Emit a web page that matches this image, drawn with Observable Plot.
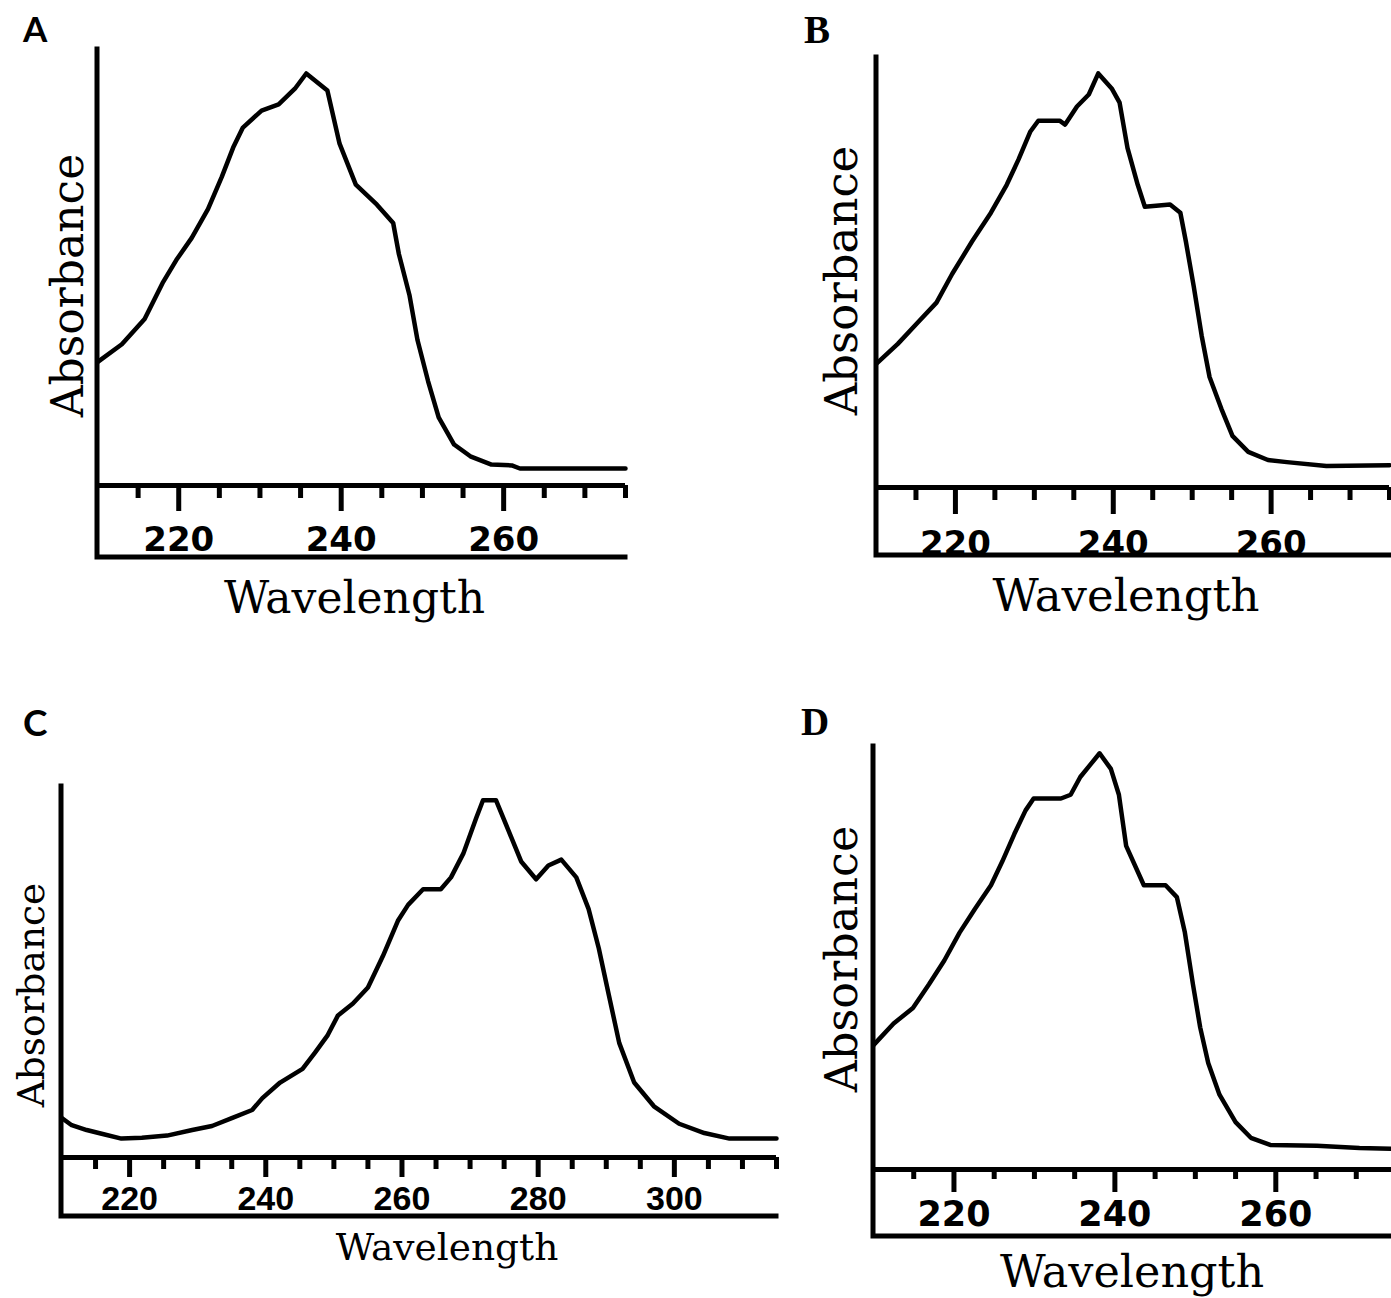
<!DOCTYPE html>
<html>
<head>
<meta charset="utf-8">
<script src="https://cdn.jsdelivr.net/npm/d3@7"></script>
<script src="https://cdn.jsdelivr.net/npm/@observablehq/plot@0.6"></script>
<style>
  html, body { margin: 0; padding: 0; background: #fff; overflow: hidden; }
  #page { position: relative; width: 1391px; height: 1298px; overflow: hidden; background: #fff; }
  .panel { position: absolute; }
  .panel svg { background: transparent !important; max-width: none !important; overflow: visible; }
  .letter { position: absolute; font-weight: bold; color: #000; }
</style>
</head>
<body>
<div id="page"></div>
<script>
// ---------- Data ----------
const panelLabels = ["A", "B", "C", "D"];
const xLabel = "Wavelength";
const yLabel = "Absorbance";

const majorTicksABD = [220, 240, 260];
const minorTicksABD = [215, 225, 230, 235, 245, 250, 255, 265, 270, 275];
const majorTicksC = [220, 240, 260, 280, 300];
const minorTicksC = [215, 225, 230, 235, 245, 250, 255, 265, 270, 275, 285, 290, 295, 305, 310, 315];

const wlA = [210, 213.0, 215.8, 218.0, 219.7, 221.6, 223.6, 225.3, 226.7, 227.9, 230.2, 232.3, 234.3, 235.7, 238.3, 239.8, 241.8, 244.4, 246.4, 247.1, 248.4, 249.4, 250.7, 252.0, 253.9, 255.9, 258.5, 261.0, 262.0, 275];
const absA = [0.283, 0.324, 0.382, 0.464, 0.517, 0.568, 0.634, 0.708, 0.775, 0.821, 0.860, 0.874, 0.910, 0.945, 0.906, 0.784, 0.690, 0.644, 0.602, 0.531, 0.437, 0.333, 0.239, 0.156, 0.094, 0.067, 0.048, 0.046, 0.039, 0.039];

const wlB = [210, 212.7, 215.2, 217.6, 219.6, 222.1, 224.5, 226.5, 228.0, 229.5, 230.5, 233.2, 233.9, 235.4, 236.9, 238.1, 239.8, 240.8, 241.8, 243.1, 244.0, 247.2, 248.5, 249.2, 250.2, 251.2, 252.2, 253.7, 255.1, 257.1, 259.6, 262.0, 267.0, 275];
const absB = [0.288, 0.334, 0.383, 0.430, 0.497, 0.572, 0.639, 0.704, 0.763, 0.828, 0.853, 0.853, 0.844, 0.886, 0.914, 0.963, 0.928, 0.895, 0.790, 0.704, 0.653, 0.658, 0.639, 0.572, 0.467, 0.353, 0.257, 0.183, 0.120, 0.083, 0.064, 0.059, 0.050, 0.052];

const wlC = [210, 211.5, 213.7, 215.9, 218.8, 221.8, 225.5, 229.2, 232.1, 235.1, 238.0, 239.5, 242.1, 245.4, 247.2, 249.1, 250.6, 252.8, 255.0, 257.2, 259.4, 260.9, 263.1, 265.7, 267.2, 269.0, 270.9, 271.9, 273.8, 275.6, 277.5, 279.7, 281.5, 283.4, 285.6, 287.4, 288.9, 290.4, 291.9, 294.1, 297.0, 300.7, 304.4, 308.1, 315];
const absC = [0.107, 0.087, 0.074, 0.064, 0.051, 0.053, 0.059, 0.074, 0.085, 0.107, 0.128, 0.160, 0.202, 0.239, 0.282, 0.330, 0.383, 0.415, 0.458, 0.543, 0.638, 0.681, 0.723, 0.723, 0.755, 0.819, 0.915, 0.963, 0.963, 0.883, 0.798, 0.750, 0.787, 0.803, 0.755, 0.670, 0.564, 0.436, 0.309, 0.202, 0.138, 0.091, 0.066, 0.051, 0.051];

const wlD = [210, 212.5, 214.9, 216.9, 218.8, 220.7, 222.6, 224.6, 226.0, 227.5, 228.9, 229.9, 233.3, 234.5, 235.7, 236.9, 238.1, 239.5, 240.5, 241.4, 243.6, 246.3, 247.7, 248.7, 249.7, 250.6, 251.6, 253.0, 255.0, 256.9, 259.3, 265.1, 270.4, 275];
const absD = [0.294, 0.345, 0.382, 0.438, 0.494, 0.560, 0.616, 0.672, 0.728, 0.793, 0.849, 0.877, 0.877, 0.886, 0.928, 0.956, 0.984, 0.947, 0.886, 0.765, 0.672, 0.672, 0.644, 0.560, 0.438, 0.336, 0.252, 0.177, 0.112, 0.075, 0.058, 0.056, 0.051, 0.049];

// ---------- Layout (styles / positions only) ----------
const layouts = [
  {wl: wlA, ab: absA, domain: [210, 275], major: majorTicksABD, minor: minorTicksABD,
   left: 0, top: 0, width: 640, height: 640, mL: 97, mT: 49, mR: 15, mB: 155, strip: 72,
   majorLen: 26, minorLen: 13, tickPad: 15, tickFont: 34, tickFamily: "DejaVu Sans",
   wlFont: 44, abFont: 44, wlDx: -7, wlDy: 113, abDx: -29, abDy: 18,
   letterFont: "Lato, 'Open Sans', sans-serif", letterSize: 35, letterX: 23, letterY: 11},
  {wl: wlB, ab: absB, domain: [210, 275], major: majorTicksABD, minor: minorTicksABD,
   left: 780, top: 0, width: 611, height: 640, mL: 96, mT: 57, mR: 2, mB: 153, strip: 68,
   majorLen: 27, minorLen: 13, tickPad: 16, tickFont: 34, tickFamily: "DejaVu Sans",
   wlFont: 45, abFont: 45, wlDx: -7, wlDy: 109, abDx: -34, abDy: 8,
   letterFont: "'Liberation Serif', serif", letterSize: 39, letterX: 24, letterY: 10},
  {wl: wlC, ab: absC, domain: [210, 315], major: majorTicksC, minor: minorTicksC,
   left: 0, top: 680, width: 790, height: 618, mL: 61, mT: 106, mR: 14, mB: 141, strip: 59,
   majorLen: 20, minorLen: 12, tickPad: 8, tickFont: 34, tickFamily: "Liberation Sans",
   wlFont: 37.5, abFont: 37.5, wlDx: 28, wlDy: 90, abDx: -30, abDy: 23,
   letterFont: "Lato, 'Open Sans', sans-serif", letterSize: 37, letterX: 23, letterY: 23},
  {wl: wlD, ab: absD, domain: [210, 275], major: majorTicksABD, minor: minorTicksABD,
   left: 780, top: 680, width: 620, height: 618, mL: 93, mT: 66, mR: 4, mB: 129, strip: 67,
   majorLen: 23, minorLen: 10, tickPad: 9, tickFont: 35, tickFamily: "DejaVu Sans",
   wlFont: 44.5, abFont: 44.5, wlDx: -3, wlDy: 103, abDx: -31, abDy: 1,
   letterFont: "'Liberation Serif', serif", letterSize: 39, letterX: 21, letterY: 22}
];

const titleFamily = "'DejaVu Serif', 'Liberation Serif', serif";
const lineW = 5;

// box: left axis line extended into the strip, and the strip's bottom line
function boxMark(strip) {
  return (index, scales, values, dimensions) => {
    const {marginLeft, marginTop, marginRight, marginBottom, width, height} = dimensions;
    const x0 = marginLeft, x1 = width - marginRight;
    const yBot = height - marginBottom + strip;
    const g = d3.create("svg:g")
      .attr("fill", "none").attr("stroke", "#000")
      .attr("stroke-width", lineW).attr("stroke-linecap", "square");
    g.append("path").attr("d", `M${x0},${marginTop}V${yBot}H${x1}`);
    return g.node();
  };
}

const page = document.getElementById("page");

layouts.forEach((L, k) => {
  const rows = L.wl.map((w, i) => ({wavelength: w, absorbance: L.ab[i]}));
  const chart = Plot.plot({
    width: L.width,
    height: L.height,
    marginLeft: L.mL, marginTop: L.mT, marginRight: L.mR, marginBottom: L.mB,
    style: {background: "transparent", overflow: "visible"},
    x: {domain: L.domain, label: null},
    y: {domain: [0, 1], axis: null, label: null},
    marks: [
      Plot.ruleY([0], {stroke: "#000", strokeWidth: lineW}),
      Plot.axisX({ticks: L.minor, tickSize: L.minorLen, tickFormat: () => "", strokeWidth: lineW, label: null}),
      Plot.axisX({ticks: L.major, tickSize: L.majorLen, tickPadding: L.tickPad, tickFormat: d => String(d),
        strokeWidth: lineW, label: null, fontSize: L.tickFont, fontWeight: "bold", fontFamily: L.tickFamily, fill: "#000"}),
      boxMark(L.strip),
      Plot.line(rows, {x: "wavelength", y: "absorbance", stroke: "#000", strokeWidth: 4.5, curve: "linear", strokeLinejoin: "round"}),
      Plot.text([xLabel], {frameAnchor: "bottom", text: d => d, textAnchor: "middle", dx: L.wlDx, dy: L.wlDy, lineAnchor: "middle",
        fontSize: L.wlFont, fontFamily: titleFamily, fill: "#000"}),
      Plot.text([yLabel], {frameAnchor: "left", text: d => d, textAnchor: "middle", rotate: -90, dx: L.abDx, dy: L.abDy, lineAnchor: "middle",
        fontSize: L.abFont, fontFamily: titleFamily, fill: "#000"})
    ]
  });
  const div = document.createElement("div");
  div.className = "panel";
  div.style.left = L.left + "px";
  div.style.top = L.top + "px";
  div.style.width = L.width + "px";
  div.style.height = L.height + "px";
  div.appendChild(chart);
  page.appendChild(div);

  const letter = document.createElement("div");
  letter.className = "letter";
  letter.textContent = panelLabels[k];
  letter.style.fontFamily = L.letterFont;
  letter.style.fontSize = L.letterSize + "px";
  letter.style.lineHeight = L.letterSize + "px";
  letter.style.left = (L.left + L.letterX) + "px";
  letter.style.top = (L.top + L.letterY) + "px";
  page.appendChild(letter);
});
</script>
</body>
</html>
